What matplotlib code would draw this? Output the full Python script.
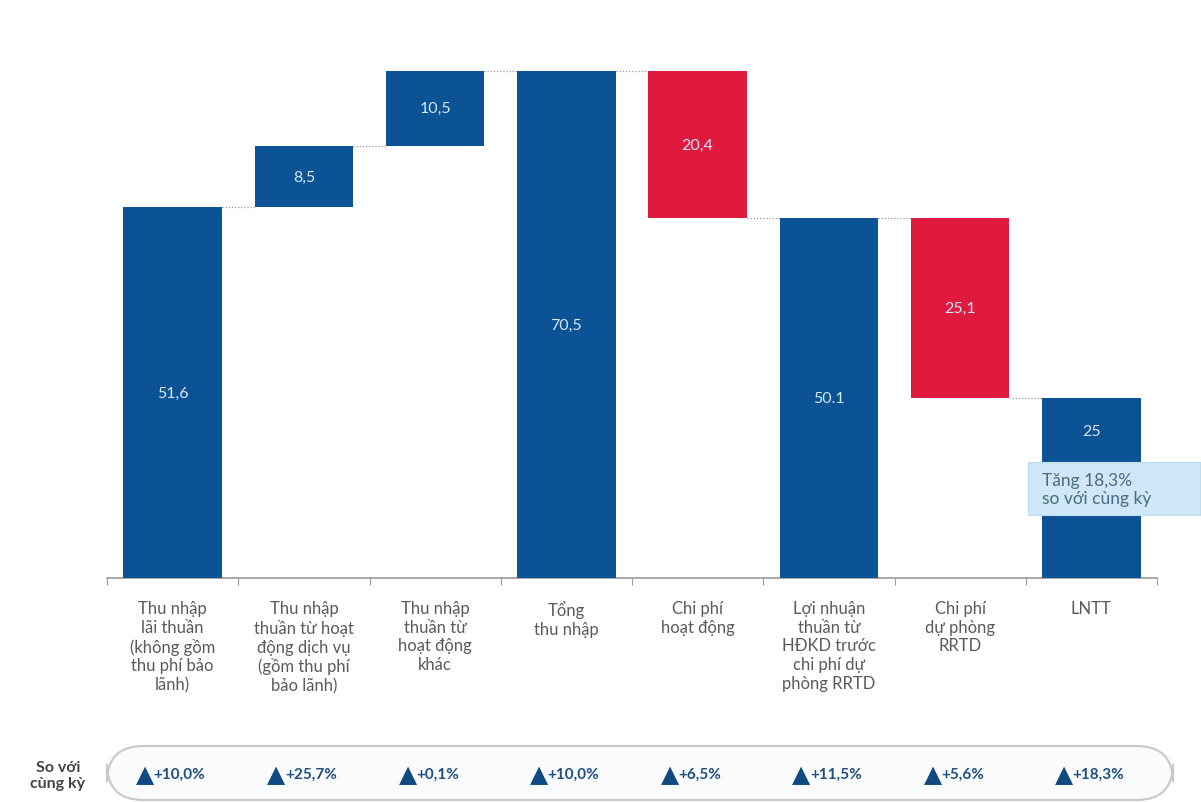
import numpy as np
import matplotlib.pyplot as plt
from matplotlib.patches import FancyBboxPatch, Rectangle

plt.rcParams['font.family'] = ['Lato', 'DejaVu Sans']

# dữ liệu
categories = [
    'Thu nhập\nlãi thuần\n(không gồm\nthu phí bảo\nlãnh)',
    'Thu nhập\nthuần từ hoạt\nđộng dịch vụ\n(gồm thu phí\nbảo lãnh)',
    'Thu nhập\nthuần từ\nhoạt động\nkhác',
    'Tổng\nthu nhập',
    'Chi phí\nhoạt động',
    'Lợi nhuận\nthuần từ\nHĐKD trước\nchi phí dự\nphòng RRTD',
    'Chi phí\ndự phòng\nRRTD',
    'LNTT',
]
values = [51.6, 8.5, 10.5, 70.5, -20.4, 50.1, -25.1, 25.0]
kinds = ['delta', 'delta', 'delta', 'total', 'delta', 'total', 'delta', 'total']
value_labels = ['51,6', '8,5', '10,5', '70,5', '20,4', '50.1', '25,1', '25']
yoy = ['+10,0%', '+25,7%', '+0,1%', '+10,0%', '+6,5%', '+11,5%', '+5,6%', '+18,3%']

BLUE = '#0b5394'
RED = '#e0193f'
GREY = '#5a5a5a'

fig = plt.figure(figsize=(12.01, 8.03), dpi=100)
ax = fig.add_axes([107 / 1201, 1 - 579 / 803, 1050 / 1201, 539 / 803])

# tính vị trí các cột waterfall
bottoms, heights, levels = [], [], []
running = 0.0
for v, k in zip(values, kinds):
    if k == 'total':
        bottoms.append(0)
        heights.append(v)
        running = v
    elif v >= 0:
        bottoms.append(running)
        heights.append(v)
        running += v
    else:
        bottoms.append(running + v)
        heights.append(-v)
        running += v
    levels.append(running)

x = np.arange(len(values))
colors = [RED if v < 0 else BLUE for v in values]
width = 0.75
ax.bar(x, heights, bottom=bottoms, width=width, color=colors, zorder=3)

# đường nối
for i in range(len(values) - 1):
    ax.plot([i + width / 2, i + 1 - width / 2], [levels[i], levels[i]],
            color='#9a9a9a', linestyle=(0, (1, 1.5)), linewidth=0.9, zorder=2)

# nhãn giá trị
for i, (b, h, lab) in enumerate(zip(bottoms, heights, value_labels)):
    ypos = b + h / 2 if i < len(values) - 1 else b + h * 0.82
    ax.text(i, ypos, lab, ha='center', va='center', color='#d6e6f7',
            fontsize=11.5, zorder=4)

# ghi chú LNTT
ax.add_patch(Rectangle((6.515, 8.8), 1.31, 7.35, fc='#cfe7f7', ec='#bcdcf0',
                       lw=0.8, zorder=5, clip_on=False))
ax.text(6.62, 12.45, 'Tăng 18,3%\nso với cùng kỳ', ha='left', va='center',
        fontsize=12.5, color='#4a6a85', linespacing=1.15, zorder=6, clip_on=False)

ax.set_xlim(-0.5, len(values) - 0.5)
ax.set_ylim(0, 75)
for s in ['top', 'right', 'left']:
    ax.spines[s].set_visible(False)
ax.spines['bottom'].set_color('#9a9a9a')
ax.spines['bottom'].set_linewidth(1.2)
ax.set_yticks([])
ax.set_xticks(np.arange(-0.5, len(values), 1.0))
ax.set_xticklabels([])
ax.tick_params(axis='x', length=5, color='#9a9a9a', direction='out')
ax.set_xticks(x, minor=True)
ax.set_xticklabels(categories, minor=True, fontsize=12, color=GREY,
                   linespacing=1.2, va='top')
ax.tick_params(axis='x', which='minor', length=0, pad=16)

# hàng so sánh cùng kỳ
fig.text(58 / 1201, 1 - 776 / 803, 'So với\ncùng kỳ', ha='center', va='center',
         fontsize=11.5, fontweight='bold', color='#444444', linespacing=1.1)

ax_row = fig.add_axes([107 / 1201, 0, 1050 / 1201, 60 / 803])
ax_row.set_xlim(-0.5, len(values) - 0.5)
ax_row.set_ylim(0, 1)
ax_row.axis('off')
box = FancyBboxPatch((107 / 1201, 2 / 803), 1066 / 1201, 54 / 803,
                     boxstyle='round,pad=0,rounding_size=0.03',
                     transform=fig.transFigure, fc='#fafbfc', ec='#c8c8c8',
                     linewidth=1.5, mutation_aspect=1.5, clip_on=False, zorder=0)
ax_row.add_patch(box)
for i, t in enumerate(yoy):
    ax_row.text(i - 0.14, 0.47, '▲', ha='right', va='center', fontsize=17,
                color='#114a80', family='DejaVu Sans', zorder=2)
    ax_row.text(i - 0.145, 0.47, t, ha='left', va='center', fontsize=11,
                fontweight='bold', color='#1f4f7f', zorder=2)

fig.savefig('out.png', dpi=100)
